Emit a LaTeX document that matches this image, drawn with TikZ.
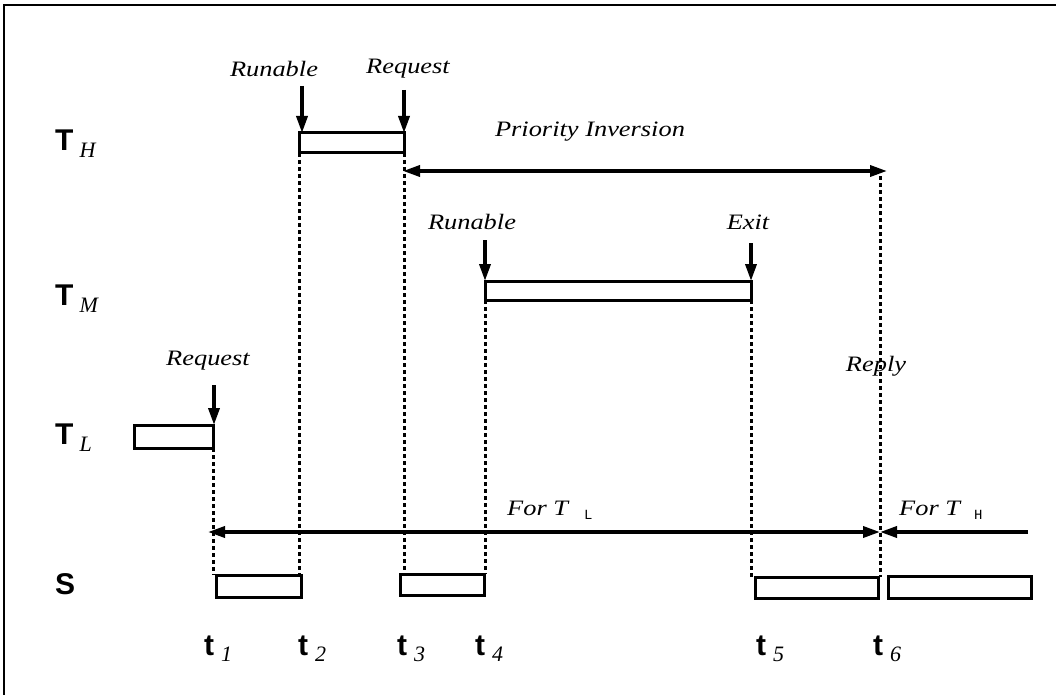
\documentclass[tikz,border=0pt]{standalone}
\usepackage{fontspec}
\usepackage{graphicx}
\setmainfont{Liberation Serif}
\setsansfont{Liberation Sans}
\setmonofont{Liberation Mono}
\usetikzlibrary{arrows.meta}
\newcommand\lb[1]{\scalebox{1.2}[1]{\fontsize{22}{24}\selectfont\itshape #1}}
\newcommand\bigT[2]{{\fontsize{30}{32}\selectfont\sffamily\bfseries #1}\hspace{6pt}\raisebox{-7pt}{\fontsize{22}{24}\selectfont\itshape #2}}
\newcommand\smallt[2]{{\fontsize{30}{32}\selectfont\sffamily\bfseries #1}\hspace{7pt}\raisebox{-6pt}{\fontsize{22}{24}\selectfont\itshape #2}}
\begin{document}
\begin{tikzpicture}[x=1pt,y=-1pt,
  bar/.style={draw, line width=3pt, fill=white, inner sep=0pt, outer sep=0pt, anchor=north west},
  arr/.style={line width=3.5pt, -{Triangle[length=17pt,width=11pt]}},
  dbl/.style={line width=3.5pt, {Triangle[length=17pt,width=11pt]}-{Triangle[length=17pt,width=11pt]}},
  dots/.style={line width=3pt, dash pattern=on 4pt off 3pt},
  lab/.style={inner sep=0pt},
  rowlab/.style={inner sep=0pt, anchor=base west},
]
\useasboundingbox (0,0) rectangle (1056,695);
% frame
\coordinate (fA) at (4,695);
\coordinate (fB) at (4,5);
\coordinate (fC) at (1056,5);
\draw[line width=2.5pt] (fA) -- (fB) -- (fC);

% row labels
\node[rowlab] (TH) at (55,150) {\bigT{T}{H}};
\node[rowlab] (TM) at (55,305) {\bigT{T}{M}};
\node[rowlab] (TL) at (55,444) {\bigT{T}{L}};
\node[rowlab] (S)  at (55,594) {{\fontsize{30}{32}\selectfont\sffamily\bfseries S}};

% boxes
\node[bar, minimum width=105pt, minimum height=20pt] (bh) at (299,133) {};
\node[bar, minimum width=266pt, minimum height=19pt] (bm) at (485,281) {};
\node[bar, minimum width=79pt,  minimum height=23pt] (bl) at (134,425) {};
\node[bar, minimum width=85pt,  minimum height=22pt] (s1) at (216,575) {};
\node[bar, minimum width=84pt,  minimum height=21pt] (s2) at (400,574) {};
\node[bar, minimum width=123pt, minimum height=21pt] (s3) at (755,577) {};
\node[bar, minimum width=143pt, minimum height=22pt] (s4) at (888,576) {};

% dotted guide lines
\draw[dots] (bl.south east) -- (bl.south east |- s1.north);
\draw[dots] (bh.south west) -- (bh.south west |- s1.north);
\draw[dots] (bh.south east) -- (bh.south east |- s2.north);
\draw[dots] (bm.south west) -- (bm.south west |- s2.north);
\draw[dots] (bm.south east) -- (bm.south east |- s3.north);
\coordinate (r6) at (880,176);
\draw[dots] (r6) -- (r6 |- s3.north);

% event arrows
\coordinate (aRun1) at (302,86);
\coordinate (aReq1) at (404,90);
\coordinate (aRun2) at (485,240);
\coordinate (aExit) at (751,243);
\coordinate (aReq3) at (214,385);
\draw[arr] (aRun1) -- (aRun1 |- bh.north);
\draw[arr] (aReq1) -- (aReq1 |- bh.north);
\draw[arr] (aRun2) -- (aRun2 |- bm.north);
\draw[arr] (aExit) -- (aExit |- bm.north);
\draw[arr] (aReq3) -- (aReq3 |- bl.north);

% span arrows
\coordinate (piL) at (403,171);
\coordinate (piR) at (887,171);
\draw[dbl] (piL) -- (piR);
\coordinate (flL) at (208,532);
\coordinate (meet) at (880,532);
\coordinate (fhR) at (1028,532);
\draw[dbl] (flL) -- (meet);
\draw[arr] (fhR) -- (meet);

% labels
\node[lab] (lRun1) at (274,69) {\lb{Runable}};
\node[lab] (lReq1) at (408,69) {\lb{Request}};
\node[lab] (lPI) at (590,132) {\lb{Priority Inversion}};
\node[lab] (lRun2) at (472,222) {\lb{Runable}};
\node[lab] (lExit) at (748,222) {\lb{Exit}};
\node[lab] (lReq3) at (208,361) {\lb{Request}};
\node[lab] (lReply) at (876,366) {\lb{Reply}};
\node[lab, anchor=west] (lForL) at (507,510) {\lb{For T}\hspace{16pt}\raisebox{-4pt}{\fontsize{14}{15}\selectfont\ttfamily L}};
\node[lab, anchor=west] (lForH) at (899,510) {\lb{For T}\hspace{14pt}\raisebox{-4pt}{\fontsize{14}{15}\selectfont\ttfamily H}};

% time labels
\node[rowlab] (t1) at (204,655) {\smallt{t}{1}};
\node[rowlab] (t2) at (298,655) {\smallt{t}{2}};
\node[rowlab] (t3) at (397,655) {\smallt{t}{3}};
\node[rowlab] (t4) at (475,655) {\smallt{t}{4}};
\node[rowlab] (t5) at (756,655) {\smallt{t}{5}};
\node[rowlab] (t6) at (873,655) {\smallt{t}{6}};
\end{tikzpicture}
\end{document}
